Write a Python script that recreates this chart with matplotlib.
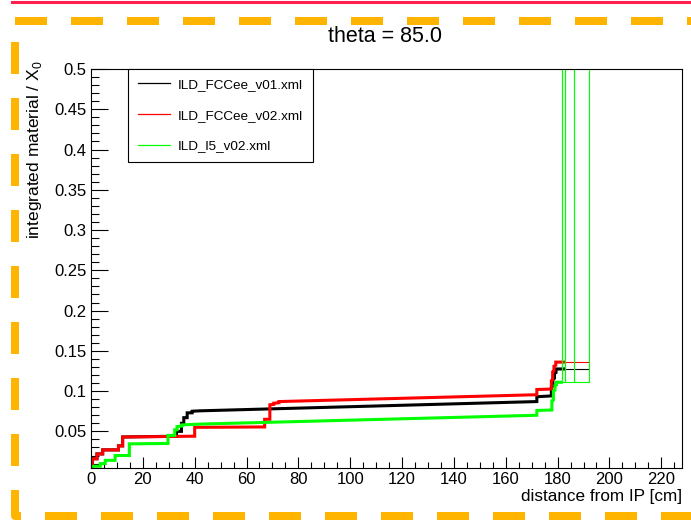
import numpy as np
import matplotlib.pyplot as plt
from matplotlib.lines import Line2D
from matplotlib.ticker import MultipleLocator, FuncFormatter

plt.rcParams['font.family'] = ['Liberation Sans', 'DejaVu Sans']
plt.rcParams['mathtext.fontset'] = 'custom'
plt.rcParams['mathtext.rm'] = 'Liberation Sans'
plt.rcParams['lines.scale_dashes'] = False

title = 'theta = 85.0'
labels = ['ILD_FCCee_v01.xml', 'ILD_FCCee_v02.xml', 'ILD_l5_v02.xml']
colors = ['black', 'red', '#00ff00']

# integrated material vs distance, steps written as repeated x values
v01_x = [0, 0.5, 0.5, 2.3, 2.3, 4.5, 4.5, 10.6, 10.6, 12.2, 12.2, 33, 33, 34.9, 34.9,
         35.8, 35.8, 37.1, 37.1, 39, 39, 42, 172, 172, 177.6, 177.6, 178.2, 178.2,
         178.8, 178.8, 179.4, 179.4, 182.6]
v01_y = [0.0, 0.0, 0.016, 0.016, 0.022, 0.022, 0.027, 0.027, 0.032, 0.032, 0.043, 0.044,
         0.050, 0.050, 0.060, 0.060, 0.067, 0.067, 0.073, 0.073, 0.075, 0.0755, 0.087,
         0.093, 0.094, 0.105, 0.106, 0.115, 0.116, 0.122, 0.123, 0.1275, 0.1275]

v02_x = [0, 0.5, 0.5, 2.3, 2.3, 4.5, 4.5, 10.6, 10.6, 12.2, 12.2, 40, 40, 67, 67, 69, 69,
         70.5, 70.5, 72.5, 72.5, 172, 172, 177.6, 177.6, 178.1, 178.1, 178.6, 178.6,
         179.3, 179.3, 182.6]
v02_y = [0.0, 0.0, 0.016, 0.016, 0.022, 0.022, 0.027, 0.027, 0.032, 0.032, 0.043, 0.044,
         0.055, 0.0555, 0.065, 0.065, 0.083, 0.0835, 0.085, 0.0855, 0.087, 0.0955, 0.102,
         0.1025, 0.113, 0.114, 0.124, 0.125, 0.131, 0.132, 0.136, 0.136]

l5_x = [0, 1, 1, 3.6, 3.6, 5.5, 5.5, 9.3, 9.3, 14.8, 14.8, 29.7, 29.7, 32.3, 32.3, 33.2,
        33.2, 35, 35, 42, 172, 172, 177.8, 177.8, 178.4, 178.4, 179, 179, 179.6, 179.6,
        181.5]
l5_y = [0.0, 0.0, 0.0067, 0.0067, 0.010, 0.010, 0.014, 0.014, 0.020, 0.020, 0.0345, 0.035,
        0.045, 0.045, 0.052, 0.052, 0.056, 0.0565, 0.058, 0.059, 0.070, 0.076, 0.0765,
        0.088, 0.089, 0.100, 0.101, 0.107, 0.108, 0.111, 0.111]

# thin tails after the coil region
v01_tail_x = [179.5, 192.3]
v01_tail_y = [0.1275, 0.1275]
v02_tail_x = [179.5, 192.3]
v02_tail_y = [0.136, 0.136]
l5_tail_x = [179.5, 181.7, 181.7, 181.7, 182.7, 182.7, 182.7, 186.2, 186.2, 186.2, 192.2, 192.2]
l5_tail_y = [0.111, 0.111, 1.0, 0.111, 0.111, 1.0, 0.111, 0.111, 1.0, 0.111, 0.111, 1.0]

W, H = 691, 521
fig = plt.figure(figsize=(W / 100, H / 100), dpi=100)
ax = fig.add_axes([91 / W, 1 - 468 / H, (682 - 91) / W, (468 - 69) / H])

curves = [(v01_x, v01_y, v01_tail_x, v01_tail_y),
          (v02_x, v02_y, v02_tail_x, v02_tail_y),
          (l5_x, l5_y, l5_tail_x, l5_tail_y)]
for (x, y, tx, ty), c in zip(curves, colors):
    ax.plot(x, y, color=c, lw=2.2, solid_joinstyle='miter')
    ax.plot(tx, ty, color=c, lw=0.8)

ax.set_xlim(0, 228)
ax.set_ylim(0.0045, 0.5)

ax.xaxis.set_major_locator(MultipleLocator(20))
ax.xaxis.set_minor_locator(MultipleLocator(5))
ax.yaxis.set_major_locator(MultipleLocator(0.05))
ax.yaxis.set_minor_locator(MultipleLocator(0.01))
ax.yaxis.set_major_formatter(FuncFormatter(lambda v, p: '%g' % round(v, 3)))

ax.tick_params(which='both', direction='in', width=0.8, labelsize=12,
               top=False, right=False)
ax.tick_params(axis='x', which='major', length=7.9, pad=3)
ax.tick_params(axis='x', which='minor', length=4)
ax.tick_params(axis='y', which='major', length=12, pad=3)
ax.tick_params(axis='y', which='minor', length=6)
for s in ax.spines.values():
    s.set_linewidth(0.8)

handles = [Line2D([], [], color=c, lw=0.9) for c in colors]
leg = ax.legend(handles, labels, loc='upper left', bbox_to_anchor=((128 - 91) / 591, 1.0),
                borderaxespad=0, fontsize=9.7, frameon=True, fancybox=False,
                framealpha=1, edgecolor='black', handlelength=2.4, handletextpad=0.6,
                labelspacing=1.35, borderpad=0.72)
leg.get_frame().set_linewidth(0.8)

fig.text(385 / W, 1 - 36 / H, title, ha='center', va='center', fontsize=15.5)
fig.text(682 / W, 1 - 496 / H, 'distance from IP [cm]', ha='right', va='center', fontsize=12.3)
fig.text(35 / W, 1 - 60 / H, 'integrated material / X$_{0}$', rotation=90,
         ha='center', va='top', fontsize=12.5)

# screenshot frame decorations
orange = '#ffb400'
dash = (0, (23.04, 17.28))
fig.add_artist(Line2D([15 / W, 1.0], [1 - 21 / H, 1 - 21 / H], color=orange, lw=5.76,
                      linestyle=dash, transform=fig.transFigure))
fig.add_artist(Line2D([15 / W, 15 / W, 1.0], [1 - 42 / H, 1 - 516 / H, 1 - 516 / H],
                      color=orange, lw=5.76, linestyle=dash, dash_joinstyle='round',
                      transform=fig.transFigure))
fig.add_artist(Line2D([12 / W, 1.0], [1 - 1.5 / H, 1 - 1.5 / H], color='#ff1f4f', lw=2.2,
                      transform=fig.transFigure))

fig.savefig('out.png', dpi=100)
